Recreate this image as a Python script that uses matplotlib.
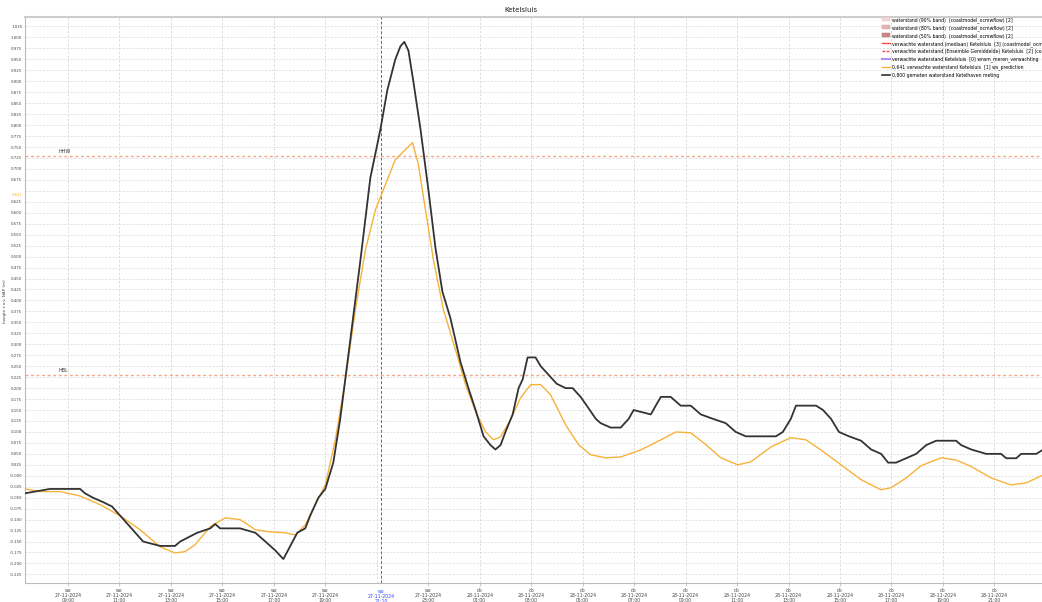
import matplotlib
matplotlib.use("Agg")
import matplotlib.pyplot as plt
import matplotlib.dates as mdates
from matplotlib.lines import Line2D
from matplotlib.patches import Patch
import pandas as pd
import numpy as np

# ---------------- data ----------------
title = "Ketelsluis"
base_date = "2024-11-27"

# measured water level Ketelhaven (hours since 27-11-2024 00:00, m NAP)
meas_hours = [7.33, 8.30, 9.47, 9.66, 9.97, 10.36, 10.71, 11.92, 12.58, 13.16, 13.36, 14.02,
              14.53, 14.72, 14.91, 15.30, 15.69, 16.28, 16.67, 17.05, 17.37, 17.64, 17.91,
              18.22, 18.42, 18.73, 19.00, 19.31, 19.58, 19.97, 20.36, 20.75, 21.14, 21.41,
              21.72, 21.92, 22.07, 22.23, 22.42, 22.70, 23.01, 23.28, 23.55, 23.86, 24.25,
              24.56, 24.84, 25.15, 25.42, 25.61, 25.81, 26.00, 26.28, 26.51, 26.67, 26.86,
              27.17, 27.37, 27.68, 27.99, 28.34, 28.61, 28.92, 29.16, 29.51, 29.70, 30.09,
              30.48, 30.79, 30.98, 31.65, 31.84, 32.04, 32.42, 32.81, 33.20, 33.59, 34.06,
              34.56, 34.95, 35.34, 35.93, 36.51, 36.78, 37.09, 37.29, 38.07, 38.34, 38.65,
              38.96, 39.35, 39.82, 40.21, 40.60, 40.87, 41.18, 41.57, 41.96, 42.35, 42.74,
              43.51, 43.71, 44.10, 44.68, 45.26, 45.46, 45.85, 46.04, 46.63, 46.90]
meas_values = [-0.04, -0.03, -0.03, -0.04, -0.05, -0.06, -0.07, -0.15, -0.16, -0.16, -0.15, -0.13,
               -0.12, -0.11, -0.12, -0.12, -0.12, -0.13, -0.15, -0.17, -0.19, -0.16, -0.13,
               -0.12, -0.09, -0.05, -0.03, 0.03, 0.13, 0.31, 0.49, 0.68, 0.79, 0.88,
               0.95, 0.98, 0.99, 0.97, 0.90, 0.79, 0.65, 0.52, 0.42, 0.36, 0.26,
               0.20, 0.15, 0.09, 0.07, 0.06, 0.07, 0.10, 0.14, 0.20, 0.22, 0.27,
               0.27, 0.25, 0.23, 0.21, 0.20, 0.20, 0.18, 0.16, 0.13, 0.12, 0.11,
               0.11, 0.13, 0.15, 0.14, 0.16, 0.18, 0.18, 0.16, 0.16, 0.14, 0.13,
               0.12, 0.10, 0.09, 0.09, 0.09, 0.10, 0.13, 0.16, 0.16, 0.15, 0.13,
               0.10, 0.09, 0.08, 0.06, 0.05, 0.03, 0.03, 0.04, 0.05, 0.07, 0.08,
               0.08, 0.07, 0.06, 0.05, 0.05, 0.04, 0.04, 0.05, 0.05, 0.06]

# predicted water level Ketelsluis
pred_hours = [7.33, 7.91, 8.69, 9.47, 10.25, 11.02, 11.80, 12.58, 13.16, 13.55, 13.94, 14.53,
              15.11, 15.69, 16.28, 16.86, 17.44, 17.83, 18.22, 18.61, 19.00, 19.39, 19.78,
              20.17, 20.56, 20.95, 21.33, 21.72, 22.11, 22.39, 22.62, 22.89, 23.20, 23.59,
              24.06, 24.45, 24.84, 25.23, 25.54, 25.81, 26.20, 26.59, 26.98, 27.37, 27.75,
              28.34, 28.84, 29.31, 29.89, 30.48, 31.26, 32.04, 32.62, 33.20, 33.79, 34.37,
              35.03, 35.54, 36.32, 37.09, 37.68, 38.26, 39.04, 39.82, 40.60, 40.99, 41.57,
              42.15, 42.93, 43.51, 44.10, 44.88, 45.65, 46.24, 46.90]
pred_values = [-0.030, -0.036, -0.036, -0.046, -0.066, -0.091, -0.123, -0.162, -0.176, -0.173,
               -0.157, -0.116, -0.096, -0.100, -0.123, -0.128, -0.130, -0.135, -0.112, -0.066,
               -0.021, 0.082, 0.219, 0.379, 0.516, 0.607, 0.664, 0.721, 0.744, 0.760, 0.709,
               0.607, 0.493, 0.379, 0.287, 0.208, 0.146, 0.100, 0.082, 0.089, 0.128, 0.178,
               0.208, 0.208, 0.185, 0.116, 0.071, 0.048, 0.041, 0.043, 0.059, 0.082, 0.100,
               0.098, 0.071, 0.041, 0.025, 0.032, 0.066, 0.087, 0.082, 0.059, 0.025, -0.009,
               -0.032, -0.027, -0.005, 0.023, 0.041, 0.036, 0.021, -0.005, -0.021, -0.016, 0.002]

hhw_level = 0.73
hbl_level = 0.23
now_hour = 21 + 10 / 60
now_value_pred = 0.641

x_range_hours = [7.33, 46.85]
y_range = [-0.244, 1.047]
ytick_values = np.round(np.arange(-0.225, 1.0251, 0.025), 3)
xtick_hours = list(range(9, 47, 2))

legend_labels = [
    "waterstand (90% band)  (coastmodel_ocmwflow) [2]",
    "waterstand (80% band)  (coastmodel_ocmwflow) [2]",
    "waterstand (50% band)  (coastmodel_ocmwflow) [2]",
    "verwachte waterstand (mediaan) Ketelsluis  [3] (coastmodel_ocmwflow)",
    "verwachte waterstand (Ensemble Gemiddelde) Ketelsluis  [2] (coastmodel_ocmwflow)",
    "verwachte waterstand Ketelsluis  [0] wnsm_meren_verwachting",
    "0,641 verwachte waterstand Ketelsluis  [1] ws_prediction",
    "0,800 gemeten waterstand Ketelhaven meting",
]

# ---------------- plot ----------------
base = pd.Timestamp(base_date)
def to_dt(hours):
    return base + pd.to_timedelta(np.asarray(hours, dtype=float), unit="h")

fig = plt.figure(figsize=(10.42, 6.02), dpi=100)
ax = fig.add_axes([0.024, 0.032, 0.976, 0.940])

orange = "#f7b23b"
dark = "#333333"

ax.plot(to_dt(pred_hours), pred_values, color=orange, lw=1.0, zorder=4)
ax.plot(to_dt(meas_hours), meas_values, color=dark, lw=1.3, zorder=5)

ax.axhline(hhw_level, color="#f4a582", lw=1.0, ls=(0, (2, 2)), zorder=3)
ax.axhline(hbl_level, color="#f4a582", lw=1.0, ls=(0, (2, 2)), zorder=3)
ax.text(0.033, hhw_level + 0.004, "HHW", transform=ax.get_yaxis_transform(),
        fontsize=3.5, color="#333333", va="bottom", ha="left")
ax.text(0.033, hbl_level + 0.004, "HBL", transform=ax.get_yaxis_transform(),
        fontsize=3.5, color="#333333", va="bottom", ha="left")

now_dt = to_dt([now_hour])[0]
ax.axvline(now_dt, color="#666666", lw=0.7, ls=(0, (3, 2)), zorder=3)

ax.set_xlim(to_dt([x_range_hours[0]])[0], to_dt([x_range_hours[1]])[0])
ax.set_ylim(*y_range)

# y ticks
ax.set_yticks(ytick_values)
ylabels = ["%.3f" % v if abs(v - 0.65) > 1e-6 else "" for v in ytick_values]
ax.set_yticklabels(ylabels)
ax.tick_params(axis="y", labelsize=2.8, length=0, pad=2, colors="#444444")
ax.text(-0.002, now_value_pred, "%.3f" % now_value_pred, transform=ax.get_yaxis_transform(),
        fontsize=2.8, color=orange, ha="right", va="center")

# x ticks
dayname = {0: "ma", 1: "di", 2: "wo", 3: "do", 4: "vr", 5: "za", 6: "zo"}
xt = []
xl = []
for h in xtick_hours:
    if h == 21:
        continue
    d = to_dt([h])[0]
    xt.append(d)
    xl.append("%s\n%s\n%s" % (dayname[d.weekday()], d.strftime("%d-%m-%Y"), d.strftime("%H:%M")))
ax.set_xticks(xt)
ax.set_xticklabels(xl, linespacing=1.0)
ax.tick_params(axis="x", labelsize=3.3, length=2, pad=1.5, colors="#444444", color="#cccccc")
ax.text(now_dt, -0.011, "%s\n%s\n%s" % (dayname[now_dt.weekday()], now_dt.strftime("%d-%m-%Y"),
        now_dt.strftime("%H:%M")), transform=ax.get_xaxis_transform(), fontsize=3.3,
        color="#3344ff", ha="center", va="top", linespacing=1.0)

# grid
ax.grid(True, axis="y", color="#d8d8d8", lw=0.5, ls=(0, (3, 2)))
for h in xtick_hours:
    ax.axvline(to_dt([h])[0], color="#d8d8d8", lw=0.6, ls=(0, (3, 2)), zorder=1)

for s in ["left", "bottom"]:
    ax.spines[s].set_color("#bbbbbb")
    ax.spines[s].set_linewidth(0.8)
ax.spines["top"].set_color("#cccccc")
ax.spines["top"].set_linewidth(1.5)
ax.spines["right"].set_visible(False)

fig.text(0.005, 0.5, "hoogte t.o.v. NAP (m)", fontsize=3.0, color="#444444",
         rotation=90, ha="center", va="center")

fig.text(0.5, 0.983, title, fontsize=5, ha="center", va="center", color="#222222")

handles = [
    Patch(facecolor="#f3d6d6", edgecolor="#e8c0c0", lw=0.3),
    Patch(facecolor="#e4b4b4", edgecolor="#d8a0a0", lw=0.3),
    Patch(facecolor="#c88888", edgecolor="#b87070", lw=0.3),
    Line2D([], [], color="#ff4444", lw=1.0),
    Line2D([], [], color="#ff4444", lw=1.0, ls=(0, (2, 1))),
    Line2D([], [], color="#b28cf0", lw=1.5),
    Line2D([], [], color=orange, lw=1.0),
    Line2D([], [], color=dark, lw=1.2),
]
fig.legend(handles, legend_labels, loc="upper left", bbox_to_anchor=(0.845, 0.975),
           frameon=False, fontsize=3.3, handlelength=1.6, handleheight=0.9,
           labelspacing=0.5, handletextpad=0.5, borderaxespad=0)

fig.savefig("out.png", dpi=100)
